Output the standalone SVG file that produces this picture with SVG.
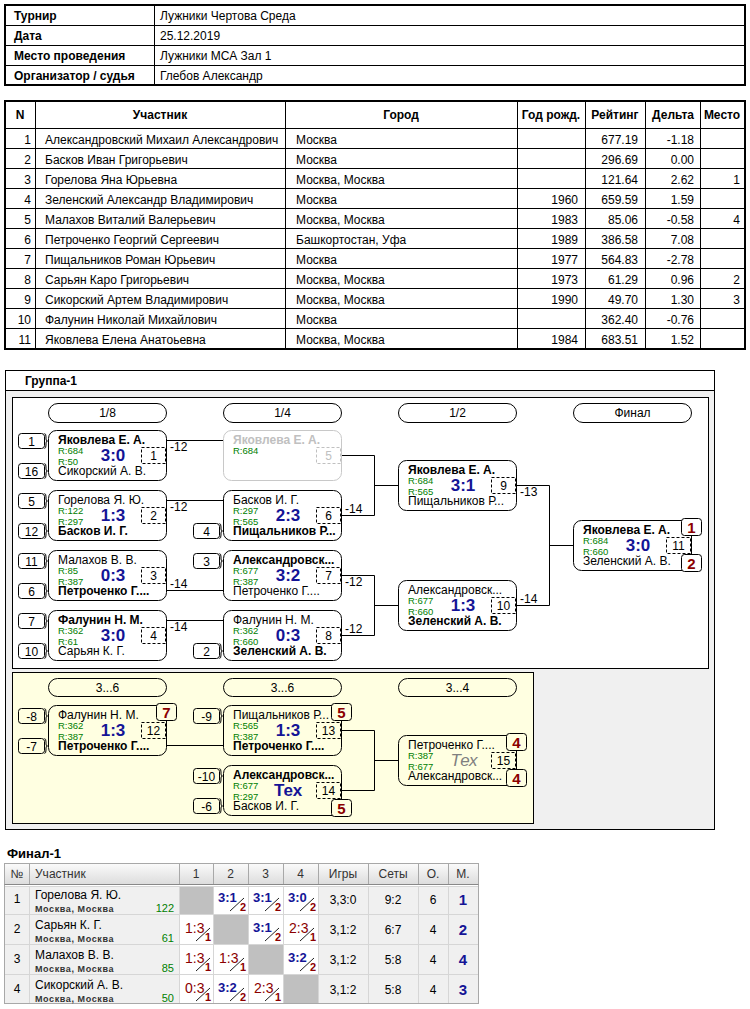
<svg xmlns="http://www.w3.org/2000/svg" width="750" height="1009" viewBox="0 0 750 1009">
<defs>
<linearGradient id="hdr" x1="0" y1="0" x2="0" y2="1"><stop offset="0" stop-color="#fbfbfb"/><stop offset="1" stop-color="#dcdcdc"/></linearGradient>
</defs>
<style>
text{font-family:"Liberation Sans",Arial,sans-serif;font-size:12px;fill:#000}
.b{font-weight:bold}
.r{text-anchor:end}
.c{text-anchor:middle}
.ln{stroke:#000;stroke-width:1;fill:none}
.box{fill:none;stroke:#000;stroke-width:1}
.ghost .box{stroke:#c8c8c8}
.ghost .nm{fill:#c0c0c0}
.ghost .num{stroke:#c0c0c0}
.ghost .nt{fill:#c0c0c0}
.rt{font-size:9.5px;fill:#008000}
.sc{font-size:17px;font-weight:bold;fill:#141496;text-anchor:middle}
.tex{font-size:17px;font-style:italic;fill:#808080;text-anchor:middle}
.num{fill:none;stroke:#000;stroke-dasharray:3 2}
.nt{text-anchor:middle}
.seed{fill:#fff;stroke:#000}
.y .seed{fill:#ffffe1}
.brace{fill:none;stroke:#000}
.md{fill:#fff;stroke:#000}
.y .md{fill:#ffffe1}
.mt{font-size:15px;font-weight:bold;fill:#8b0000;text-anchor:middle}
.sd{text-anchor:middle}
.pill{fill:none;stroke:#000}
.lbl{font-size:12px}
.hd{fill:#333}
text.win{font-size:13px;font-weight:bold;fill:#141496}
text.loss{font-size:14px;fill:#8b0000}
text.sn{font-size:11px;font-weight:bold;fill:#8b0000;text-anchor:end}
.sl{stroke:#222;stroke-width:1}
text.city{font-size:9px;font-weight:bold;letter-spacing:0.6px;fill:#333}
text.frt{font-size:11px;fill:#008000;text-anchor:end}
text.pl{font-size:15px;font-weight:bold;fill:#141496;text-anchor:middle}
.cellg{fill:#f0f0f0;stroke:#d6d6d6}
.cellw{fill:#fff;stroke:#d6d6d6}
.cellx{fill:#c0c0c0;stroke:#d6d6d6}
</style>
<rect width="750" height="1009" fill="#fff"/>

<!-- Info table -->
<g id="info">
<rect x="5" y="5" width="740" height="80" fill="none" stroke="#000" stroke-width="2"/>
<path class="ln" d="M5,25.5H745M5,45.5H745M5,65.5H745M154.5,5V85"/>
<text class="b" x="14" y="20">Турнир</text><text x="160" y="20">Лужники Чертова Среда</text>
<text class="b" x="14" y="40">Дата</text><text x="160" y="40">25.12.2019</text>
<text class="b" x="14" y="60">Место проведения</text><text x="160" y="60">Лужники МСА Зал 1</text>
<text class="b" x="14" y="80">Организатор / судья</text><text x="160" y="80">Глебов Александр</text>
</g>

<!-- Participants table -->
<g id="participants">
<rect x="5" y="101" width="740" height="248" fill="none" stroke="#000" stroke-width="2"/>
<path class="ln" d="M5,128.5H745M5,148.5H745M5,168.5H745M5,188.5H745M5,208.5H745M5,228.5H745M5,248.5H745M5,268.5H745M5,288.5H745M5,308.5H745M5,328.5H745M35.5,101V349M285.5,101V349M517.5,101V349M585.5,101V349M645.5,101V349M700.5,101V349"/>
<text class="b c" x="20" y="119">N</text>
<text class="b c" x="160" y="119">Участник</text>
<text class="b c" x="401" y="119">Город</text>
<text class="b c" x="551" y="119">Год рожд.</text>
<text class="b c" x="615" y="119">Рейтинг</text>
<text class="b c" x="673" y="119">Дельта</text>
<text class="b c" x="722" y="119">Место</text>
<g>
<text class="r" x="31" y="144">1</text><text x="45" y="144">Александровский Михаил Александрович</text><text x="296" y="144">Москва</text><text class="r" x="638" y="144">677.19</text><text class="r" x="694" y="144">-1.18</text>
<text class="r" x="31" y="164">2</text><text x="45" y="164">Басков Иван Григорьевич</text><text x="296" y="164">Москва</text><text class="r" x="638" y="164">296.69</text><text class="r" x="694" y="164">0.00</text>
<text class="r" x="31" y="184">3</text><text x="45" y="184">Горелова Яна Юрьевна</text><text x="296" y="184">Москва, Москва</text><text class="r" x="638" y="184">121.64</text><text class="r" x="694" y="184">2.62</text><text class="r" x="740" y="184">1</text>
<text class="r" x="31" y="204">4</text><text x="45" y="204">Зеленский Александр Владимирович</text><text x="296" y="204">Москва</text><text class="r" x="578" y="204">1960</text><text class="r" x="638" y="204">659.59</text><text class="r" x="694" y="204">1.59</text>
<text class="r" x="31" y="224">5</text><text x="45" y="224">Малахов Виталий Валерьевич</text><text x="296" y="224">Москва, Москва</text><text class="r" x="578" y="224">1983</text><text class="r" x="638" y="224">85.06</text><text class="r" x="694" y="224">-0.58</text><text class="r" x="740" y="224">4</text>
<text class="r" x="31" y="244">6</text><text x="45" y="244">Петроченко Георгий Сергеевич</text><text x="296" y="244">Башкортостан, Уфа</text><text class="r" x="578" y="244">1989</text><text class="r" x="638" y="244">386.58</text><text class="r" x="694" y="244">7.08</text>
<text class="r" x="31" y="264">7</text><text x="45" y="264">Пищальников Роман Юрьевич</text><text x="296" y="264">Москва</text><text class="r" x="578" y="264">1977</text><text class="r" x="638" y="264">564.83</text><text class="r" x="694" y="264">-2.78</text>
<text class="r" x="31" y="284">8</text><text x="45" y="284">Сарьян Каро Григорьевич</text><text x="296" y="284">Москва, Москва</text><text class="r" x="578" y="284">1973</text><text class="r" x="638" y="284">61.29</text><text class="r" x="694" y="284">0.96</text><text class="r" x="740" y="284">2</text>
<text class="r" x="31" y="304">9</text><text x="45" y="304">Сикорский Артем Владимирович</text><text x="296" y="304">Москва, Москва</text><text class="r" x="578" y="304">1990</text><text class="r" x="638" y="304">49.70</text><text class="r" x="694" y="304">1.30</text><text class="r" x="740" y="304">3</text>
<text class="r" x="31" y="324">10</text><text x="45" y="324">Фалунин Николай Михайлович</text><text x="296" y="324">Москва</text><text class="r" x="638" y="324">362.40</text><text class="r" x="694" y="324">-0.76</text>
<text class="r" x="31" y="344">11</text><text x="45" y="344">Яковлева Елена Анатоьевна</text><text x="296" y="344">Москва, Москва</text><text class="r" x="578" y="344">1984</text><text class="r" x="638" y="344">683.51</text><text class="r" x="694" y="344">1.52</text>
</g>
</g>

<!-- Group frame -->
<g id="group1-frame">
<rect x="5.5" y="370.5" width="709" height="459" fill="#f0f0f0" stroke="#000"/>
<rect x="5.5" y="370.5" width="709" height="20" fill="#fff" stroke="#000"/>
<text class="b" x="25" y="385">Группа-1</text>
<rect x="12.5" y="397.5" width="696" height="271" fill="#fff" stroke="#000"/>
<rect x="12.5" y="672.5" width="521" height="151" fill="#ffffe1" stroke="#000"/>
</g>

<!-- Round headers -->
<g id="round-headers">
<rect class="pill" x="48.5" y="403.5" width="118" height="19" rx="9.5"/><text class="c" x="107.5" y="417">1/8</text>
<rect class="pill" x="223.5" y="403.5" width="118" height="19" rx="9.5"/><text class="c" x="282.5" y="417">1/4</text>
<rect class="pill" x="398.5" y="403.5" width="118" height="19" rx="9.5"/><text class="c" x="457.5" y="417">1/2</text>
<rect class="pill" x="573.5" y="403.5" width="118" height="19" rx="9.5"/><text class="c" x="632.5" y="417">Финал</text>
<rect class="pill" x="48.5" y="678.5" width="118" height="18" rx="9"/><text class="c" x="107.5" y="691.5">3...6</text>
<rect class="pill" x="223.5" y="678.5" width="118" height="18" rx="9"/><text class="c" x="282.5" y="691.5">3...6</text>
<rect class="pill" x="398.5" y="678.5" width="118" height="18" rx="9"/><text class="c" x="457.5" y="691.5">3...4</text>
</g>

<!-- Connectors -->
<g id="connectors">
<path class="ln" d="M166,440.5H223M166,500.5H223M166,590.5H223M166,620.5H223"/>
<path class="ln" d="M341,455.5H374.5V515.5H341M374.5,485.5H398"/>
<path class="ln" d="M341,575.5H374.5V635.5H341M374.5,605.5H398"/>
<path class="ln" d="M516,485.5H549.5V605.5H516M549.5,545.5H573"/>
<path class="ln" d="M166,745.5H223"/>
<path class="ln" d="M341,730.5H374.5V790.5H341M374.5,760.5H398"/>
<text class="lbl" x="170" y="451">-12</text>
<text class="lbl" x="170" y="511">-12</text>
<text class="lbl" x="170" y="588">-14</text>
<text class="lbl" x="170" y="631">-14</text>
<text class="lbl" x="345" y="513">-14</text>
<text class="lbl" x="345" y="586">-12</text>
<text class="lbl" x="345" y="633">-12</text>
<text class="lbl" x="520" y="496">-13</text>
<text class="lbl" x="520" y="603">-14</text>
</g>

<!-- Matches 1/8 -->
<g id="m1" transform="translate(48,430)">
<rect class="seed" x="-29.5" y="3.5" width="26" height="15" rx="3"/><path class="brace" d="M-3.5,3.5q1.5,0 1.5,3.5v2q0,2 1.5,2q-1.5,0 -1.5,2v2q0,3.5 -1.5,3.5"/><text class="sd" x="-16.5" y="15.5">1</text>
<rect class="seed" x="-29.5" y="33.5" width="26" height="15" rx="3"/><path class="brace" d="M-3.5,33.5q1.5,0 1.5,3.5v2q0,2 1.5,2q-1.5,0 -1.5,2v2q0,3.5 -1.5,3.5"/><text class="sd" x="-16.5" y="45.5">16</text>
<rect class="box" x="0.5" y="0.5" width="118" height="50" rx="8"/>
<text class="nm b" x="10" y="14">Яковлева Е. А.</text><text class="rt" x="10" y="24">R:684</text><text class="rt" x="10" y="35">R:50</text><text class="nm" x="10" y="45">Сикорский А. В.</text>
<text class="sc" x="65" y="31">3:0</text><rect class="num" x="93.5" y="17.5" width="24" height="16"/><text class="nt" x="105.5" y="30">1</text>
</g>
<g id="m2" transform="translate(48,490)">
<rect class="seed" x="-29.5" y="3.5" width="26" height="15" rx="3"/><path class="brace" d="M-3.5,3.5q1.5,0 1.5,3.5v2q0,2 1.5,2q-1.5,0 -1.5,2v2q0,3.5 -1.5,3.5"/><text class="sd" x="-16.5" y="15.5">5</text>
<rect class="seed" x="-29.5" y="33.5" width="26" height="15" rx="3"/><path class="brace" d="M-3.5,33.5q1.5,0 1.5,3.5v2q0,2 1.5,2q-1.5,0 -1.5,2v2q0,3.5 -1.5,3.5"/><text class="sd" x="-16.5" y="45.5">12</text>
<rect class="box" x="0.5" y="0.5" width="118" height="50" rx="8"/>
<text class="nm" x="10" y="14">Горелова Я. Ю.</text><text class="rt" x="10" y="24">R:122</text><text class="rt" x="10" y="35">R:297</text><text class="nm b" x="10" y="45">Басков И. Г.</text>
<text class="sc" x="65" y="31">1:3</text><rect class="num" x="93.5" y="17.5" width="24" height="16"/><text class="nt" x="105.5" y="30">2</text>
</g>
<g id="m3" transform="translate(48,550)">
<rect class="seed" x="-29.5" y="3.5" width="26" height="15" rx="3"/><path class="brace" d="M-3.5,3.5q1.5,0 1.5,3.5v2q0,2 1.5,2q-1.5,0 -1.5,2v2q0,3.5 -1.5,3.5"/><text class="sd" x="-16.5" y="15.5">11</text>
<rect class="seed" x="-29.5" y="33.5" width="26" height="15" rx="3"/><path class="brace" d="M-3.5,33.5q1.5,0 1.5,3.5v2q0,2 1.5,2q-1.5,0 -1.5,2v2q0,3.5 -1.5,3.5"/><text class="sd" x="-16.5" y="45.5">6</text>
<rect class="box" x="0.5" y="0.5" width="118" height="50" rx="8"/>
<text class="nm" x="10" y="14">Малахов В. В.</text><text class="rt" x="10" y="24">R:85</text><text class="rt" x="10" y="35">R:387</text><text class="nm b" x="10" y="45">Петроченко Г....</text>
<text class="sc" x="65" y="31">0:3</text><rect class="num" x="93.5" y="17.5" width="24" height="16"/><text class="nt" x="105.5" y="30">3</text>
</g>
<g id="m4" transform="translate(48,610)">
<rect class="seed" x="-29.5" y="3.5" width="26" height="15" rx="3"/><path class="brace" d="M-3.5,3.5q1.5,0 1.5,3.5v2q0,2 1.5,2q-1.5,0 -1.5,2v2q0,3.5 -1.5,3.5"/><text class="sd" x="-16.5" y="15.5">7</text>
<rect class="seed" x="-29.5" y="33.5" width="26" height="15" rx="3"/><path class="brace" d="M-3.5,33.5q1.5,0 1.5,3.5v2q0,2 1.5,2q-1.5,0 -1.5,2v2q0,3.5 -1.5,3.5"/><text class="sd" x="-16.5" y="45.5">10</text>
<rect class="box" x="0.5" y="0.5" width="118" height="50" rx="8"/>
<text class="nm b" x="10" y="14">Фалунин Н. М.</text><text class="rt" x="10" y="24">R:362</text><text class="rt" x="10" y="35">R:61</text><text class="nm" x="10" y="45">Сарьян К. Г.</text>
<text class="sc" x="65" y="31">3:0</text><rect class="num" x="93.5" y="17.5" width="24" height="16"/><text class="nt" x="105.5" y="30">4</text>
</g>

<!-- Matches 1/4 -->
<g id="m5" class="ghost" transform="translate(223,430)">
<rect class="box" x="0.5" y="0.5" width="118" height="50" rx="8"/>
<text class="nm b" x="10" y="14">Яковлева Е. А.</text><text class="rt" x="10" y="24">R:684</text>
<rect class="num" x="93.5" y="17.5" width="24" height="16"/><text class="nt" x="105.5" y="30">5</text>
</g>
<g id="m6" transform="translate(223,490)">
<rect class="seed" x="-29.5" y="33.5" width="26" height="15" rx="3"/><path class="brace" d="M-3.5,33.5q1.5,0 1.5,3.5v2q0,2 1.5,2q-1.5,0 -1.5,2v2q0,3.5 -1.5,3.5"/><text class="sd" x="-16.5" y="45.5">4</text>
<rect class="box" x="0.5" y="0.5" width="118" height="50" rx="8"/>
<text class="nm" x="10" y="14">Басков И. Г.</text><text class="rt" x="10" y="24">R:297</text><text class="rt" x="10" y="35">R:565</text><text class="nm b" x="10" y="45">Пищальников Р...</text>
<text class="sc" x="65" y="31">2:3</text><rect class="num" x="93.5" y="17.5" width="24" height="16"/><text class="nt" x="105.5" y="30">6</text>
</g>
<g id="m7" transform="translate(223,550)">
<rect class="seed" x="-29.5" y="3.5" width="26" height="15" rx="3"/><path class="brace" d="M-3.5,3.5q1.5,0 1.5,3.5v2q0,2 1.5,2q-1.5,0 -1.5,2v2q0,3.5 -1.5,3.5"/><text class="sd" x="-16.5" y="15.5">3</text>
<rect class="box" x="0.5" y="0.5" width="118" height="50" rx="8"/>
<text class="nm b" x="10" y="14">Александровск...</text><text class="rt" x="10" y="24">R:677</text><text class="rt" x="10" y="35">R:387</text><text class="nm" x="10" y="45">Петроченко Г....</text>
<text class="sc" x="65" y="31">3:2</text><rect class="num" x="93.5" y="17.5" width="24" height="16"/><text class="nt" x="105.5" y="30">7</text>
</g>
<g id="m8" transform="translate(223,610)">
<rect class="seed" x="-29.5" y="33.5" width="26" height="15" rx="3"/><path class="brace" d="M-3.5,33.5q1.5,0 1.5,3.5v2q0,2 1.5,2q-1.5,0 -1.5,2v2q0,3.5 -1.5,3.5"/><text class="sd" x="-16.5" y="45.5">2</text>
<rect class="box" x="0.5" y="0.5" width="118" height="50" rx="8"/>
<text class="nm" x="10" y="14">Фалунин Н. М.</text><text class="rt" x="10" y="24">R:362</text><text class="rt" x="10" y="35">R:660</text><text class="nm b" x="10" y="45">Зеленский А. В.</text>
<text class="sc" x="65" y="31">0:3</text><rect class="num" x="93.5" y="17.5" width="24" height="16"/><text class="nt" x="105.5" y="30">8</text>
</g>

<!-- Matches 1/2 -->
<g id="m9" transform="translate(398,460)">
<rect class="box" x="0.5" y="0.5" width="118" height="50" rx="8"/>
<text class="nm b" x="10" y="14">Яковлева Е. А.</text><text class="rt" x="10" y="24">R:684</text><text class="rt" x="10" y="35">R:565</text><text class="nm" x="10" y="45">Пищальников Р...</text>
<text class="sc" x="65" y="31">3:1</text><rect class="num" x="93.5" y="17.5" width="24" height="16"/><text class="nt" x="105.5" y="30">9</text>
</g>
<g id="m10" transform="translate(398,580)">
<rect class="box" x="0.5" y="0.5" width="118" height="50" rx="8"/>
<text class="nm" x="10" y="14">Александровск...</text><text class="rt" x="10" y="24">R:677</text><text class="rt" x="10" y="35">R:660</text><text class="nm b" x="10" y="45">Зеленский А. В.</text>
<text class="sc" x="65" y="31">1:3</text><rect class="num" x="93.5" y="17.5" width="24" height="16"/><text class="nt" x="105.5" y="30">10</text>
</g>

<!-- Final -->
<g id="m11" transform="translate(573,520)">
<rect class="box" x="0.5" y="0.5" width="118" height="50" rx="8"/>
<text class="nm b" x="10" y="14">Яковлева Е. А.</text><text class="rt" x="10" y="24">R:684</text><text class="rt" x="10" y="35">R:660</text><text class="nm" x="10" y="45">Зеленский А. В.</text>
<text class="sc" x="65" y="31">3:0</text><rect class="num" x="93.5" y="17.5" width="24" height="16"/><text class="nt" x="105.5" y="30">11</text>
<rect class="md" x="108.5" y="-1.5" width="20" height="17" rx="3"/><text class="mt" x="118.5" y="12.5">1</text>
<rect class="md" x="108.5" y="34.5" width="20" height="17" rx="3"/><text class="mt" x="118.5" y="48.5">2</text>
</g>

<!-- Places 3-6 -->
<g id="m12" class="y" transform="translate(48,705)">
<rect class="seed" x="-29.5" y="3.5" width="26" height="15" rx="3"/><path class="brace" d="M-3.5,3.5q1.5,0 1.5,3.5v2q0,2 1.5,2q-1.5,0 -1.5,2v2q0,3.5 -1.5,3.5"/><text class="sd" x="-16.5" y="15.5">-8</text>
<rect class="seed" x="-29.5" y="33.5" width="26" height="15" rx="3"/><path class="brace" d="M-3.5,33.5q1.5,0 1.5,3.5v2q0,2 1.5,2q-1.5,0 -1.5,2v2q0,3.5 -1.5,3.5"/><text class="sd" x="-16.5" y="45.5">-7</text>
<rect class="box" x="0.5" y="0.5" width="118" height="50" rx="8"/>
<text class="nm" x="10" y="14">Фалунин Н. М.</text><text class="rt" x="10" y="24">R:362</text><text class="rt" x="10" y="35">R:387</text><text class="nm b" x="10" y="45">Петроченко Г....</text>
<text class="sc" x="65" y="31">1:3</text><rect class="num" x="93.5" y="17.5" width="24" height="16"/><text class="nt" x="105.5" y="30">12</text>
<rect class="md" x="108.5" y="-1.5" width="20" height="17" rx="3"/><text class="mt" x="118.5" y="12.5">7</text>
</g>
<g id="m13" class="y" transform="translate(223,705)">
<rect class="seed" x="-29.5" y="3.5" width="26" height="15" rx="3"/><path class="brace" d="M-3.5,3.5q1.5,0 1.5,3.5v2q0,2 1.5,2q-1.5,0 -1.5,2v2q0,3.5 -1.5,3.5"/><text class="sd" x="-16.5" y="15.5">-9</text>
<rect class="box" x="0.5" y="0.5" width="118" height="50" rx="8"/>
<text class="nm" x="10" y="14">Пищальников Р...</text><text class="rt" x="10" y="24">R:565</text><text class="rt" x="10" y="35">R:387</text><text class="nm b" x="10" y="45">Петроченко Г....</text>
<text class="sc" x="65" y="31">1:3</text><rect class="num" x="93.5" y="17.5" width="24" height="16"/><text class="nt" x="105.5" y="30">13</text>
<rect class="md" x="108.5" y="-1.5" width="20" height="17" rx="3"/><text class="mt" x="118.5" y="12.5">5</text>
</g>
<g id="m14" class="y" transform="translate(223,765)">
<rect class="seed" x="-29.5" y="3.5" width="26" height="15" rx="3"/><path class="brace" d="M-3.5,3.5q1.5,0 1.5,3.5v2q0,2 1.5,2q-1.5,0 -1.5,2v2q0,3.5 -1.5,3.5"/><text class="sd" x="-16.5" y="15.5">-10</text>
<rect class="seed" x="-29.5" y="33.5" width="26" height="15" rx="3"/><path class="brace" d="M-3.5,33.5q1.5,0 1.5,3.5v2q0,2 1.5,2q-1.5,0 -1.5,2v2q0,3.5 -1.5,3.5"/><text class="sd" x="-16.5" y="45.5">-6</text>
<rect class="box" x="0.5" y="0.5" width="118" height="50" rx="8"/>
<text class="nm b" x="10" y="14">Александровск...</text><text class="rt" x="10" y="24">R:677</text><text class="rt" x="10" y="35">R:297</text><text class="nm" x="10" y="45">Басков И. Г.</text>
<text class="sc" x="65" y="31">Тех</text><rect class="num" x="93.5" y="17.5" width="24" height="16"/><text class="nt" x="105.5" y="30">14</text>
<rect class="md" x="108.5" y="34.5" width="20" height="17" rx="3"/><text class="mt" x="118.5" y="48.5">5</text>
</g>
<g id="m15" class="y" transform="translate(398,735)">
<rect class="box" x="0.5" y="0.5" width="118" height="50" rx="8"/>
<text class="nm" x="10" y="14">Петроченко Г....</text><text class="rt" x="10" y="24">R:387</text><text class="rt" x="10" y="35">R:677</text><text class="nm" x="10" y="45">Александровск...</text>
<text class="tex" x="66" y="31">Тех</text><rect class="num" x="93.5" y="17.5" width="24" height="16"/><text class="nt" x="105.5" y="30">15</text>
<rect class="md" x="108.5" y="-1.5" width="20" height="17" rx="3"/><text class="mt" x="118.5" y="12.5">4</text>
<rect class="md" x="108.5" y="34.5" width="20" height="17" rx="3"/><text class="mt" x="118.5" y="48.5">4</text>
</g>

<!-- Final-1 table -->
<g id="final1">
<text class="b" x="7" y="858" style="font-size:13px">Финал-1</text>
<rect x="4.5" y="863.5" width="474" height="21" fill="url(#hdr)" stroke="#a8a8a8"/>
<path d="M29.5,864V884M179.5,864V884M213.5,864V884M248.5,864V884M283.5,864V884M318.5,864V884M368.5,864V884M418.5,864V884M448.5,864V884" stroke="#a8a8a8"/>
<text class="hd c" x="17" y="878">№</text>
<text class="hd" x="35" y="878">Участник</text>
<text class="hd c" x="196" y="878">1</text>
<text class="hd c" x="230.5" y="878">2</text>
<text class="hd c" x="265.5" y="878">3</text>
<text class="hd c" x="300.5" y="878">4</text>
<text class="hd c" x="343" y="878">Игры</text>
<text class="hd c" x="393" y="878">Сеты</text>
<text class="hd c" x="433" y="878">О.</text>
<text class="hd c" x="463" y="878">М.</text>
<g>
<rect class="cellg" x="4.5" y="886.5" width="25" height="28"/><rect class="cellg" x="29.5" y="886.5" width="150" height="28"/>
<rect class="cellx" x="179.5" y="886.5" width="34" height="28"/><rect class="cellw" x="213.5" y="886.5" width="35" height="28"/><rect class="cellw" x="248.5" y="886.5" width="35" height="28"/><rect class="cellw" x="283.5" y="886.5" width="35" height="28"/>
<rect class="cellg" x="318.5" y="886.5" width="50" height="28"/><rect class="cellg" x="368.5" y="886.5" width="50" height="28"/><rect class="cellg" x="418.5" y="886.5" width="30" height="28"/><rect class="cellg" x="448.5" y="886.5" width="30" height="28"/>

<rect class="cellg" x="4.5" y="914.5" width="25" height="30"/><rect class="cellg" x="29.5" y="914.5" width="150" height="30"/>
<rect class="cellw" x="179.5" y="914.5" width="34" height="30"/><rect class="cellx" x="213.5" y="914.5" width="35" height="30"/><rect class="cellw" x="248.5" y="914.5" width="35" height="30"/><rect class="cellw" x="283.5" y="914.5" width="35" height="30"/>
<rect class="cellg" x="318.5" y="914.5" width="50" height="30"/><rect class="cellg" x="368.5" y="914.5" width="50" height="30"/><rect class="cellg" x="418.5" y="914.5" width="30" height="30"/><rect class="cellg" x="448.5" y="914.5" width="30" height="30"/>

<rect class="cellg" x="4.5" y="944.5" width="25" height="30"/><rect class="cellg" x="29.5" y="944.5" width="150" height="30"/>
<rect class="cellw" x="179.5" y="944.5" width="34" height="30"/><rect class="cellw" x="213.5" y="944.5" width="35" height="30"/><rect class="cellx" x="248.5" y="944.5" width="35" height="30"/><rect class="cellw" x="283.5" y="944.5" width="35" height="30"/>
<rect class="cellg" x="318.5" y="944.5" width="50" height="30"/><rect class="cellg" x="368.5" y="944.5" width="50" height="30"/><rect class="cellg" x="418.5" y="944.5" width="30" height="30"/><rect class="cellg" x="448.5" y="944.5" width="30" height="30"/>

<rect class="cellg" x="4.5" y="974.5" width="25" height="29"/><rect class="cellg" x="29.5" y="974.5" width="150" height="29"/>
<rect class="cellw" x="179.5" y="974.5" width="34" height="29"/><rect class="cellw" x="213.5" y="974.5" width="35" height="29"/><rect class="cellw" x="248.5" y="974.5" width="35" height="29"/><rect class="cellx" x="283.5" y="974.5" width="35" height="29"/>
<rect class="cellg" x="318.5" y="974.5" width="50" height="29"/><rect class="cellg" x="368.5" y="974.5" width="50" height="29"/><rect class="cellg" x="418.5" y="974.5" width="30" height="29"/><rect class="cellg" x="448.5" y="974.5" width="30" height="29"/>
</g>
<rect x="4.5" y="863.5" width="474" height="140" fill="none" stroke="#a8a8a8"/>
<line x1="4.5" y1="884.5" x2="478.5" y2="884.5" stroke="#888"/>
<g>
<text class="c" x="17" y="903">1</text><text x="35" y="899">Горелова Я. Ю.</text><text class="city" x="35" y="912">Москва, Москва</text><text class="frt" x="174" y="912">122</text>
<text class="c" x="17" y="933">2</text><text x="35" y="929">Сарьян К. Г.</text><text class="city" x="35" y="942">Москва, Москва</text><text class="frt" x="174" y="942">61</text>
<text class="c" x="17" y="963">3</text><text x="35" y="959">Малахов В. В.</text><text class="city" x="35" y="972">Москва, Москва</text><text class="frt" x="174" y="972">85</text>
<text class="c" x="17" y="993">4</text><text x="35" y="989">Сикорский А. В.</text><text class="city" x="35" y="1002">Москва, Москва</text><text class="frt" x="174" y="1002">50</text>
</g>
<g>
<text class="win" x="218" y="902">3:1</text><line class="sl" x1="230" y1="911" x2="244" y2="898"/><text class="sn" x="246" y="911">2</text>
<text class="win" x="253" y="902">3:1</text><line class="sl" x1="265" y1="911" x2="279" y2="898"/><text class="sn" x="281" y="911">2</text>
<text class="win" x="288" y="902">3:0</text><line class="sl" x1="300" y1="911" x2="314" y2="898"/><text class="sn" x="316" y="911">2</text>

<text class="loss" x="185" y="933">1:3</text><line class="sl" x1="196" y1="941" x2="210" y2="928"/><text class="sn" x="211" y="941">1</text>
<text class="win" x="253" y="932">3:1</text><line class="sl" x1="265" y1="941" x2="279" y2="928"/><text class="sn" x="281" y="941">2</text>
<text class="loss" x="289" y="933">2:3</text><line class="sl" x1="300" y1="941" x2="314" y2="928"/><text class="sn" x="316" y="941">1</text>

<text class="loss" x="185" y="963">1:3</text><line class="sl" x1="196" y1="971" x2="210" y2="958"/><text class="sn" x="211" y="971">1</text>
<text class="loss" x="219" y="963">1:3</text><line class="sl" x1="230" y1="971" x2="244" y2="958"/><text class="sn" x="246" y="971">1</text>
<text class="win" x="288" y="962">3:2</text><line class="sl" x1="300" y1="971" x2="314" y2="958"/><text class="sn" x="316" y="971">2</text>

<text class="loss" x="185" y="993">0:3</text><line class="sl" x1="196" y1="1001" x2="210" y2="988"/><text class="sn" x="211" y="1001">1</text>
<text class="win" x="218" y="992">3:2</text><line class="sl" x1="230" y1="1001" x2="244" y2="988"/><text class="sn" x="246" y="1001">2</text>
<text class="loss" x="254" y="993">2:3</text><line class="sl" x1="265" y1="1001" x2="279" y2="988"/><text class="sn" x="281" y="1001">1</text>
</g>
<g>
<text class="c" x="343" y="904">3,3:0</text><text class="c" x="393" y="904">9:2</text><text class="c" x="433" y="904">6</text><text class="pl" x="463" y="905">1</text>
<text class="c" x="343" y="934">3,1:2</text><text class="c" x="393" y="934">6:7</text><text class="c" x="433" y="934">4</text><text class="pl" x="463" y="935">2</text>
<text class="c" x="343" y="964">3,1:2</text><text class="c" x="393" y="964">5:8</text><text class="c" x="433" y="964">4</text><text class="pl" x="463" y="965">4</text>
<text class="c" x="343" y="994">3,1:2</text><text class="c" x="393" y="994">5:8</text><text class="c" x="433" y="994">4</text><text class="pl" x="463" y="995">3</text>
</g>
</g>
</svg>
